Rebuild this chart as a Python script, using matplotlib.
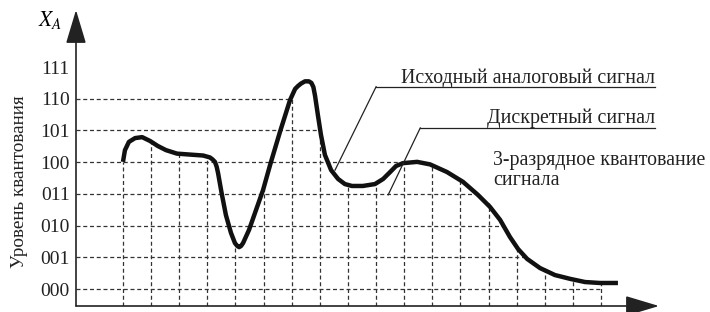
import matplotlib.pyplot as plt
from matplotlib.patches import ArrowStyle

# уровни квантования (3 разряда)
levels = [0, 1, 2, 3, 4, 5, 6, 7]
level_labels = ['000', '001', '010', '011', '100', '101', '110', '111']
# докуда тянется пунктир каждого уровня (в отсчётах)
level_ends = [17.0, 14.3, 13.5, 12.4, 10.0, 6.97, 5.97]

# исходный аналоговый сигнал (время в отсчётах, уровень)
curve_t = [0.00, 0.035, 0.07, 0.21, 0.43, 0.68, 0.96, 1.24, 1.53, 1.92, 2.38, 2.85,
           3.09, 3.18, 3.27, 3.33, 3.38, 3.50, 3.66, 3.84, 3.98, 4.06, 4.13, 4.20,
           4.27, 4.48, 4.73, 4.98, 5.23, 5.58, 5.94, 6.12, 6.22, 6.33, 6.47, 6.61,
           6.70, 6.77, 6.83, 6.93, 7.04, 7.18, 7.40, 7.65, 7.89, 8.14, 8.53, 8.96,
           9.25, 9.50, 9.71, 9.96, 10.46, 10.92, 11.52, 12.09, 12.62, 13.05, 13.41, 13.76,
           14.05, 14.37, 14.83, 15.36, 15.90, 16.43, 16.96, 17.60]
curve_v = [4.01, 4.20, 4.38, 4.64, 4.76, 4.79, 4.67, 4.51, 4.38, 4.27, 4.24, 4.21,
           4.15, 4.09, 4.01, 3.86, 3.66, 3.06, 2.33, 1.77, 1.45, 1.36, 1.32, 1.36,
           1.45, 1.86, 2.49, 3.12, 3.91, 4.95, 5.96, 6.31, 6.40, 6.48, 6.55, 6.55,
           6.50, 6.37, 6.09, 5.49, 4.86, 4.23, 3.75, 3.47, 3.31, 3.25, 3.25, 3.31,
           3.47, 3.69, 3.88, 3.97, 4.01, 3.93, 3.69, 3.38, 2.97, 2.59, 2.18, 1.64,
           1.26, 0.95, 0.66, 0.44, 0.32, 0.22, 0.19, 0.19]

# дискретные отсчёты
sample_t = list(range(18))
sample_v = [4.01, 4.67, 4.25, 4.15, 1.43, 3.12, 6.02, 5.05, 3.30, 3.30,
            3.97, 3.92, 3.40, 2.70, 1.33, 0.66, 0.30, 0.19]

plt.rcParams['font.family'] = ['Liberation Serif', 'DejaVu Serif']
plt.rcParams['mathtext.fontset'] = 'stix'

fig = plt.figure(figsize=(7.1, 3.12), dpi=100)
ax = fig.add_axes([76 / 710, 6 / 312, (659 - 76) / 710, (306 - 10) / 312])
x0, y0 = -1.671, -0.536
ax.set_xlim(x0, 19.06)
ax.set_ylim(y0, 8.80)

for s in ax.spines.values():
    s.set_visible(False)
ax.set_xticks([])
ax.set_yticks(levels, level_labels)
ax.tick_params(axis='y', length=0, pad=4.5, labelsize=14, colors='#222')

dash = (0, (3.2, 2.2))
ax.hlines(levels[:7], x0, level_ends, colors='#333', lw=0.9, linestyles=dash)
ax.vlines(sample_t, y0, sample_v, colors='#333', lw=0.9, linestyles=dash)

ax.plot(curve_t, curve_v, color='#111', lw=3.2, solid_capstyle='butt',
        solid_joinstyle='round')

# оси со стрелками
style = ArrowStyle('-|>', head_length=1.5, head_width=0.45)
ax.annotate('', xy=(1, 0), xytext=(0, 0), xycoords='axes fraction',
            arrowprops=dict(arrowstyle=style, color='#222', lw=1.2,
                            mutation_scale=14, shrinkA=0, shrinkB=0))
ax.annotate('', xy=(0, 1), xytext=(0, 0), xycoords='axes fraction',
            arrowprops=dict(arrowstyle=style, color='#222', lw=1.2,
                            mutation_scale=14, shrinkA=0, shrinkB=0))

fig.text(38 / 710, 1 - 20 / 312, '$X_A$', fontsize=15.5, va='center', ha='left')
fig.text(20 / 710, 1 - 182 / 312, 'Уровень квантования', rotation=90,
         fontsize=13.8, va='center', ha='center', color='#222')

# подписи с выносками
ax.plot([9.0, 18.92], [6.38, 6.38], color='#222', lw=0.9, clip_on=False)
ax.plot([7.54, 9.0], [3.75, 6.38], color='#222', lw=0.9, clip_on=False)
ax.text(18.92, 6.50, 'Исходный аналоговый сигнал', fontsize=14.3,
        ha='right', va='baseline', color='#222')
ax.plot([10.57, 18.92], [5.08, 5.08], color='#222', lw=0.9, clip_on=False)
ax.plot([9.43, 10.57], [2.97, 5.08], color='#222', lw=0.9, clip_on=False)
ax.text(18.92, 5.23, 'Дискретный сигнал', fontsize=14.3,
        ha='right', va='baseline', color='#222')
ax.text(13.16, 3.91, '3-разрядное квантование', fontsize=14.3,
        ha='left', va='baseline', color='#222')
ax.text(13.16, 3.28, 'сигнала', fontsize=14.3,
        ha='left', va='baseline', color='#222')

fig.savefig('out.png', dpi=100)
